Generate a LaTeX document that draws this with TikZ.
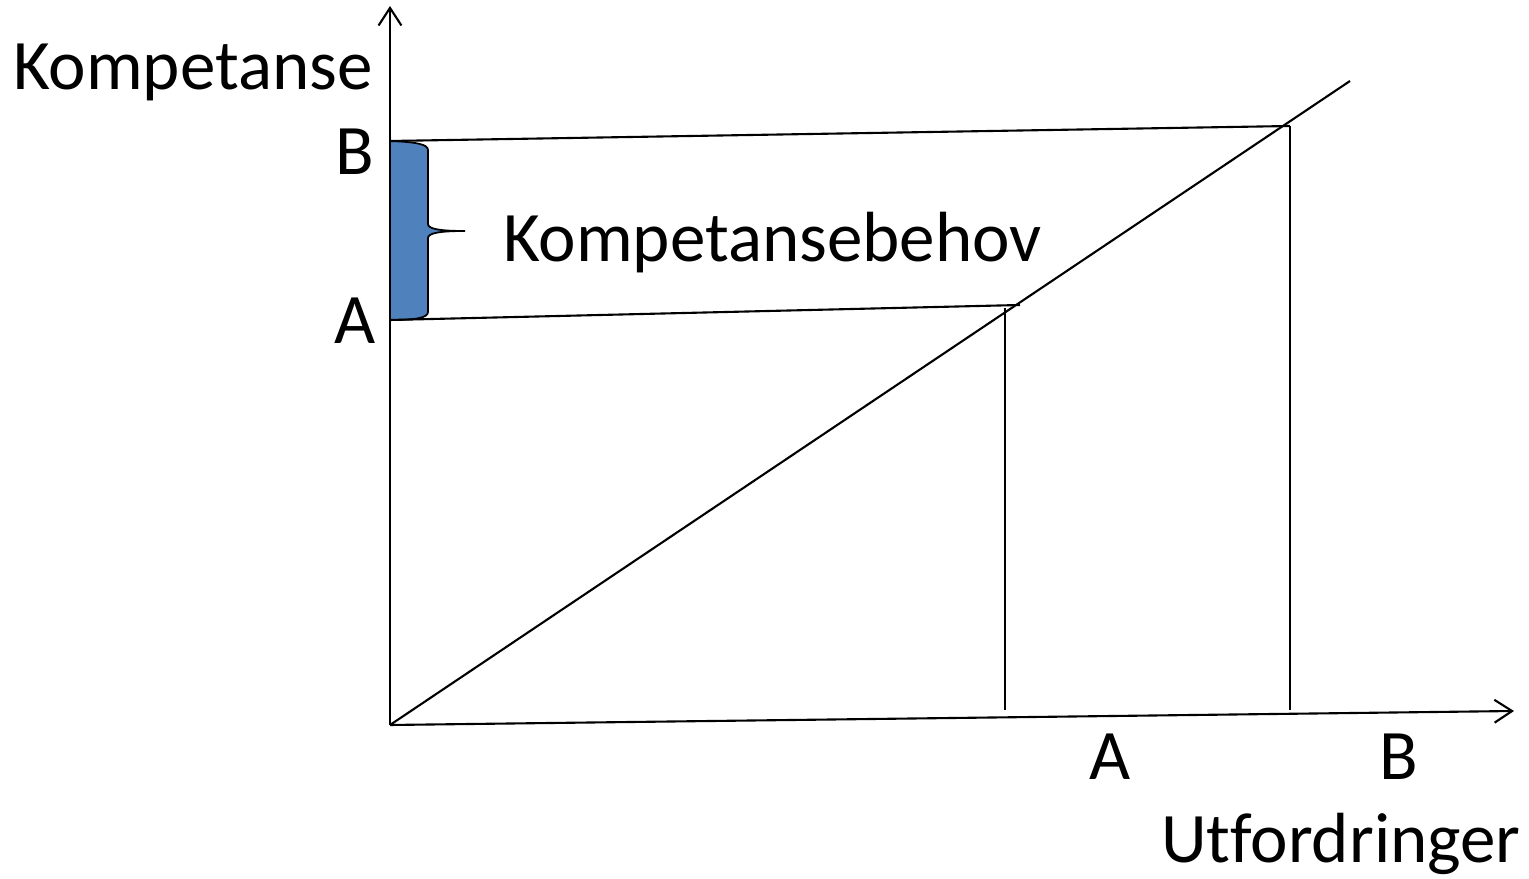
\documentclass[tikz,border=0pt]{standalone}
\usepackage{xcolor}
\usepackage{fontspec}
\setmainfont{Carlito}[Ligatures=NoCommon]
\usetikzlibrary{arrows.meta}
\definecolor{braceblue}{RGB}{79,129,189}

\begin{document}
\begin{tikzpicture}[x=0.01cm, y=-0.01cm, line width=0.6pt,
    axis/.style={-{Straight Barb[length=5pt, width=6.5pt]}},
    lbl/.style={anchor=base west, inner sep=0pt, font=\fontsize{20.2}{24}\selectfont}]
            \useasboundingbox (0,0) rectangle (1529,879);

            % Points
            \coordinate (origin) at (390,725);
            \coordinate (ytop) at (390,6);
            \coordinate (xtip) at (1514,711);
            \coordinate (diagend) at (1350,81);
            \coordinate (yB) at (390,141);
            \coordinate (cornerB) at (1290,126);
            \coordinate (footB) at (1290,710);
            \coordinate (yA) at (390,320);
            \coordinate (endA) at (1020,305);
            \coordinate (topA) at (1005,308);
            \coordinate (footA) at (1005,710);

            % Brace
            \draw[line width=0.5pt, fill=braceblue] (yB) .. controls (415,142) and (428,144) .. (428,150)
                -- (428,224) .. controls (428,229) and (440,231) .. (465,231)
                .. controls (440,231) and (428,233) .. (428,238)
                -- (428,312) .. controls (428,318) and (415,320) .. (yA) -- cycle;

            % Axes
            \draw[axis] (origin) -- (ytop);
            \draw[axis] (origin) -- (xtip);

            % Diagonal
            \draw (origin) -- (diagend);

            % Levels
            \draw (yB) -- (cornerB);
            \draw (cornerB) -- (footB);
            \draw (yA) -- (endA);
            \draw (topA) -- (footA);

            % Labels
            \node[lbl] (ylabel) at (12,90) {Kompetanse};
            \node[lbl] (labelyB) at (334,175) {B};
            \node[lbl] (labelyA) at (333,344) {A};
            \node[lbl] (need) at (502,262) {Kompetansebehov};
            \node[lbl] (labelxA) at (1088,780) {A};
            \node[lbl] (labelxB) at (1378,780) {B};
            \node[lbl] (xlabel) at (1160,863) {Utfordringer};
        \end{tikzpicture}
\end{document}
